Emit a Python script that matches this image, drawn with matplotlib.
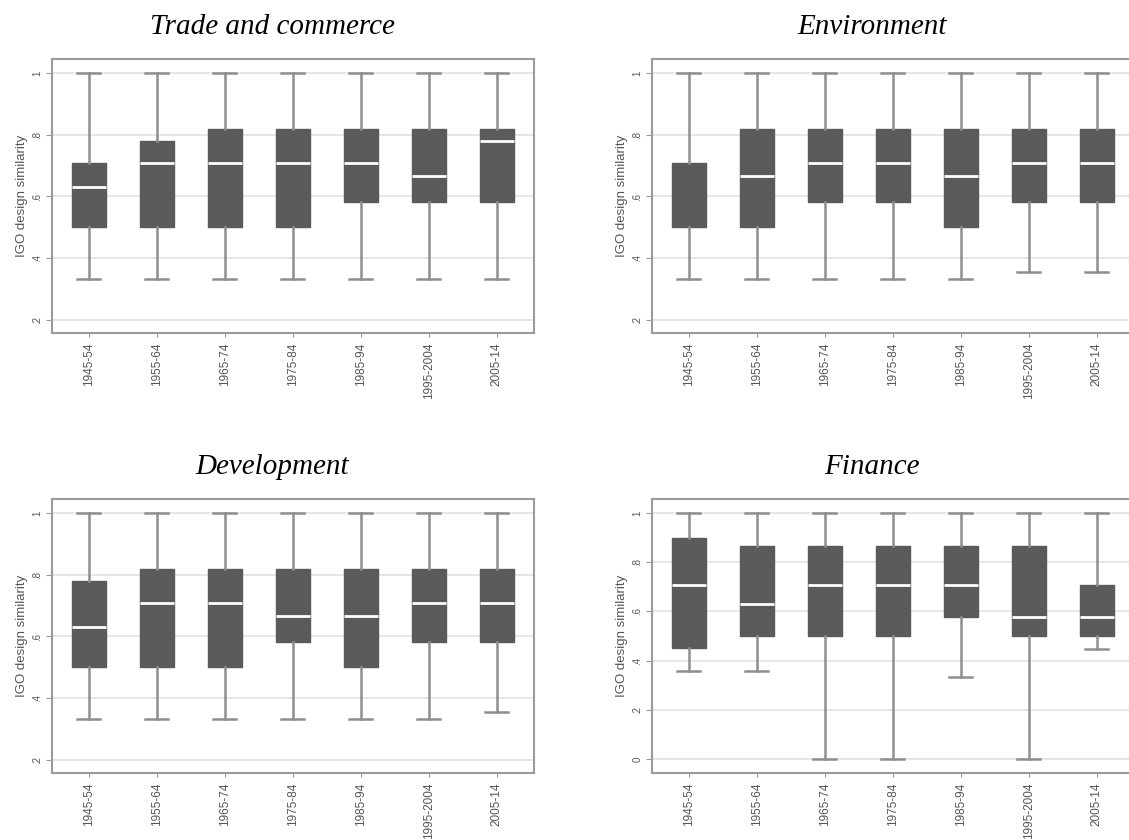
import matplotlib
matplotlib.use("Agg")
import matplotlib.pyplot as plt

periods = ["1945-54", "1955-64", "1965-74", "1975-84", "1985-94", "1995-2004", "2005-14"]

# Box-plot summaries per period: lower whisker, Q1, median, Q3, upper whisker
trade_low = [0.333, 0.333, 0.333, 0.333, 0.333, 0.333, 0.333]
trade_q1 = [0.5, 0.5, 0.5, 0.5, 0.583, 0.583, 0.583]
trade_med = [0.632, 0.707, 0.707, 0.707, 0.707, 0.667, 0.778]
trade_q3 = [0.707, 0.778, 0.818, 0.818, 0.818, 0.818, 0.818]
trade_high = [1, 1, 1, 1, 1, 1, 1]

env_low = [0.333, 0.333, 0.333, 0.333, 0.333, 0.357, 0.357]
env_q1 = [0.5, 0.5, 0.583, 0.583, 0.5, 0.583, 0.583]
env_med = [0.5, 0.667, 0.707, 0.707, 0.667, 0.707, 0.707]
env_q3 = [0.707, 0.818, 0.818, 0.818, 0.818, 0.818, 0.818]
env_high = [1, 1, 1, 1, 1, 1, 1]

dev_low = [0.333, 0.333, 0.333, 0.333, 0.333, 0.333, 0.357]
dev_q1 = [0.5, 0.5, 0.5, 0.583, 0.5, 0.583, 0.583]
dev_med = [0.632, 0.707, 0.707, 0.667, 0.667, 0.707, 0.707]
dev_q3 = [0.778, 0.818, 0.818, 0.818, 0.818, 0.818, 0.818]
dev_high = [1, 1, 1, 1, 1, 1, 1]

fin_low = [0.357, 0.357, 0.0, 0.0, 0.333, 0.0, 0.447]
fin_q1 = [0.45, 0.5, 0.5, 0.5, 0.578, 0.5, 0.5]
fin_med = [0.707, 0.632, 0.707, 0.707, 0.707, 0.577, 0.577]
fin_q3 = [0.9, 0.866, 0.866, 0.866, 0.866, 0.866, 0.707]
fin_high = [1, 1, 1, 1, 1, 1, 1]

panels = [
    ("Trade and commerce", trade_low, trade_q1, trade_med, trade_q3, trade_high,
     [1, .8, .6, .4, .2], ["1", ".8", ".6", ".4", ".2"]),
    ("Environment", env_low, env_q1, env_med, env_q3, env_high,
     [1, .8, .6, .4, .2], ["1", ".8", ".6", ".4", ".2"]),
    ("Development", dev_low, dev_q1, dev_med, dev_q3, dev_high,
     [1, .8, .6, .4, .2], ["1", ".8", ".6", ".4", ".2"]),
    ("Finance", fin_low, fin_q1, fin_med, fin_q3, fin_high,
     [1, .8, .6, .4, .2, 0], ["1", ".8", ".6", ".4", ".2", "0"]),
]

W, H = 1129, 840
fig = plt.figure(figsize=(W / 100, H / 100), dpi=100)
fig.patch.set_facecolor("white")

box_color = "#5a5a5a"
whisk_color = "#8e8e8e"
frame_color = "#9a9a9a"
text_color = "#555555"

# pixel layout of each panel: (left, top, right, bottom)
rects = [(52, 59, 534, 333), (652, 59, 1134, 333),
         (52, 499, 534, 773), (652, 499, 1134, 773)]
ylims = [(0.158, 1.045), (0.158, 1.045), (0.158, 1.045), (-0.057, 1.057)]
title_y = [27, 27, 467, 467]

for (title, lo, q1, med, q3, hi, yt, ytl), (l, t, r, b), yl, ty in zip(panels, rects, ylims, title_y):
    ax = fig.add_axes([l / W, (H - b) / H, (r - l) / W, (b - t) / H])
    stats = []
    for i in range(len(periods)):
        stats.append(dict(whislo=lo[i], q1=q1[i], med=med[i], q3=q3[i],
                          whishi=hi[i], fliers=[], label=periods[i]))
    pos = list(range(1, len(periods) + 1))
    res = ax.bxp(stats, positions=pos, widths=0.5, patch_artist=True,
                 showfliers=False,
                 boxprops=dict(facecolor=box_color, edgecolor=box_color, linewidth=1),
                 medianprops=dict(color="white", linewidth=2.0),
                 whiskerprops=dict(color=whisk_color, linewidth=1.8),
                 capprops=dict(color=whisk_color, linewidth=1.8),
                 capwidths=0.34)
    # a median that coincides with a quartile disappears into the box edge
    for i, m in enumerate(res["medians"]):
        if med[i] == q1[i] or med[i] == q3[i]:
            m.set_visible(False)

    ax.set_xlim(0.46, 0.46 + (r - l) / 68.0)
    ax.set_ylim(*yl)
    ax.set_yticks(yt)
    ax.set_yticklabels(ytl, rotation=90, va="center", fontsize=7,
                       color=text_color, family="Liberation Sans")
    ax.set_xticks(pos)
    ax.set_xticklabels(periods, rotation=90, fontsize=8.5, color=text_color,
                       family="Liberation Sans")
    ax.tick_params(axis="y", length=4, width=0.8, color=frame_color, pad=3)
    ax.tick_params(axis="x", length=3, width=0.8, color=frame_color, pad=4)
    ax.yaxis.grid(True, color="#e2e2e2", linewidth=1.2)
    ax.set_axisbelow(True)
    for sp in ax.spines.values():
        sp.set_color(frame_color)
        sp.set_linewidth(1.5)
    ax.set_ylabel("IGO design similarity", fontsize=9.5, color=text_color,
                  family="Liberation Sans", labelpad=3)
    fig.text((l + 220) / W, (H - ty) / H, title, ha="center", va="center",
             fontsize=21, style="italic", family="Liberation Serif")

fig.savefig("out.png", dpi=100, facecolor="white")
